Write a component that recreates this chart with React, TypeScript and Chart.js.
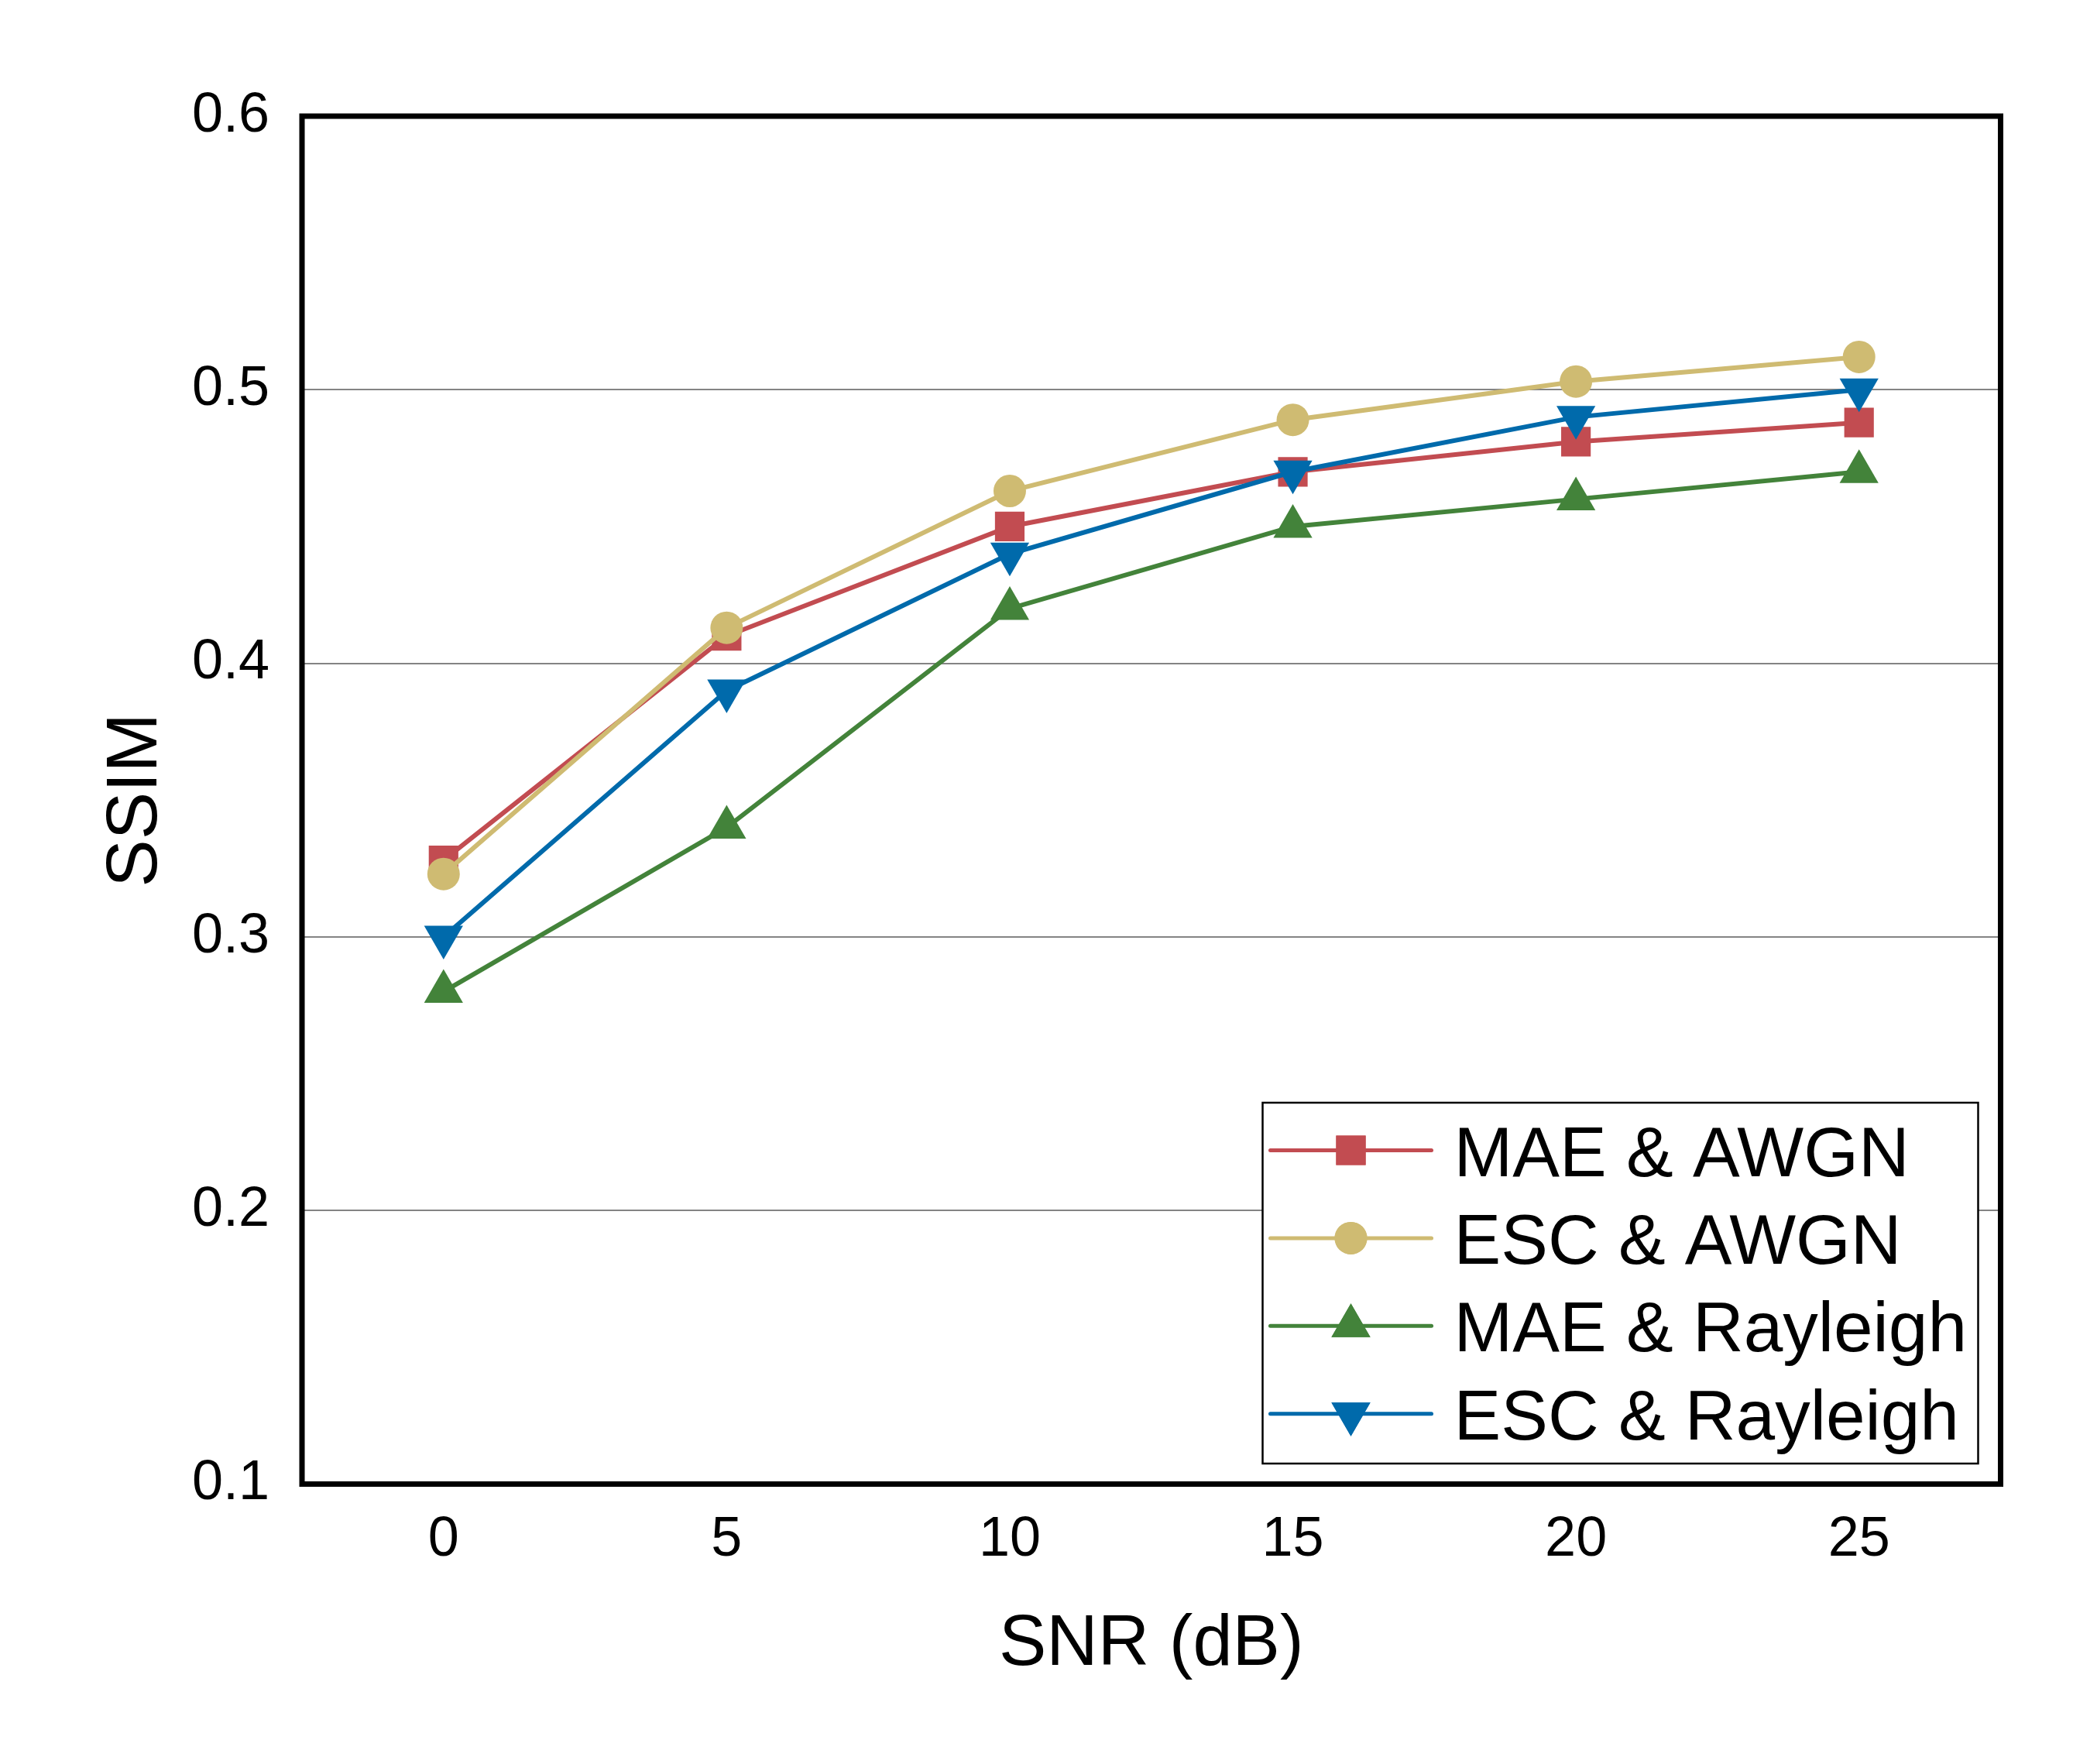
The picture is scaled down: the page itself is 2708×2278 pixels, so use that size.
import { useEffect, useRef } from 'react';
import { Chart, registerables } from 'chart.js';
import { drawPoint } from 'chart.js/helpers';

Chart.register(...registerables);

const snrLabels = ['0', '5', '10', '15', '20', '25'];
const yTicks = [0.1, 0.2, 0.3, 0.4, 0.5, 0.6];

const maeAwgn = [0.328, 0.41, 0.45, 0.47, 0.481, 0.488];
const escAwgn = [0.323, 0.413, 0.463, 0.489, 0.503, 0.512];
const maeRayleigh = [0.28, 0.34, 0.42, 0.45, 0.46, 0.47];
const escRayleigh = [0.3, 0.39, 0.44, 0.47, 0.49, 0.5];

const seriesNames = ['MAE & AWGN', 'ESC & AWGN', 'MAE & Rayleigh', 'ESC & Rayleigh'];

const FONT = '"Liberation Sans", Arial, sans-serif';
const W = 2708;
const H = 2278;

// black frame round the plot area
const framePlugin = {
  id: 'frame',
  afterDraw(chart: Chart) {
    const { ctx, chartArea: a } = chart;
    ctx.save();
    ctx.strokeStyle = '#000';
    ctx.lineWidth = 7;
    ctx.strokeRect(a.left, a.top, a.right - a.left, a.bottom - a.top);
    ctx.restore();
  },
};

// legend inside the plot, bottom right, line through marker
const insideLegend = {
  id: 'insideLegend',
  afterDraw(chart: Chart) {
    const { ctx, chartArea: a } = chart;
    const boxW = 924;
    const boxH = 466;
    const x0 = a.right - 29 - boxW;
    const y0 = a.bottom - 26.5 - boxH;
    ctx.save();
    ctx.fillStyle = '#fff';
    ctx.fillRect(x0, y0, boxW, boxH);
    ctx.strokeStyle = '#000';
    ctx.lineWidth = 2.5;
    ctx.strokeRect(x0, y0, boxW, boxH);

    chart.data.datasets.forEach((ds: any, i: number) => {
      const cy = y0 + 61.5 + i * 113.4;
      ctx.strokeStyle = ds.borderColor;
      ctx.lineWidth = 5;
      ctx.lineCap = 'round';
      ctx.beginPath();
      ctx.moveTo(x0 + 10, cy);
      ctx.lineTo(x0 + 218, cy);
      ctx.stroke();
      ctx.fillStyle = ds.borderColor;
      drawPoint(ctx, {
        pointStyle: ds.pointStyle,
        rotation: ds.pointRotation || 0,
        radius: ds.pointRadius,
        borderWidth: 0,
      }, x0 + 114, cy);
      ctx.fill();

      ctx.fillStyle = '#000';
      ctx.font = `91px ${FONT}`;
      ctx.textAlign = 'left';
      ctx.textBaseline = 'alphabetic';
      ctx.fillText(seriesNames[i], x0 + 247, cy + 33);
    });
    ctx.restore();
  },
};

export default function App() {
  const canvasRef = useRef<HTMLCanvasElement>(null);

  useEffect(() => {
    if (!canvasRef.current) return;
    const ctx = canvasRef.current.getContext('2d');
    if (!ctx) return;

    const line = (label: string, data: number[], color: string, style: string, radius: number, order: number, rotation = 0) => ({
      label,
      data,
      borderColor: color,
      backgroundColor: color,
      borderWidth: 6,
      pointStyle: style,
      pointRadius: radius,
      pointRotation: rotation,
      pointBorderWidth: 0,
      pointBackgroundColor: color,
      tension: 0,
      order,
    });

    const chart = new Chart(ctx, {
      type: 'line',
      data: {
        labels: snrLabels,
        datasets: [
          line(seriesNames[0], maeAwgn, '#C24C51', 'rect', 27, 4),
          line(seriesNames[1], escAwgn, '#CFBB72', 'circle', 21, 3),
          line(seriesNames[2], maeRayleigh, '#43833A', 'triangle', 29, 2),
          line(seriesNames[3], escRayleigh, '#006AAB', 'triangle', 29, 1, 180),
        ] as any,
      },
      options: {
        responsive: false,
        animation: false,
        devicePixelRatio: 1,
        layout: { padding: { top: 150, right: 124.5, left: 0, bottom: 0 } },
        plugins: {
          legend: { display: false },
          tooltip: { enabled: false },
        },
        scales: {
          x: {
            type: 'category',
            offset: true,
            grid: { display: false, drawTicks: false },
            border: { display: false },
            ticks: {
              color: '#000',
              font: { size: 72, family: FONT },
              padding: 29,
              maxRotation: 0,
            },
            title: {
              display: true,
              text: 'SNR (dB)',
              color: '#000',
              font: { size: 92, family: FONT },
              padding: { top: 0, bottom: 98 },
            },
            afterFit: (scale: any) => {
              scale.height = 361.5;
            },
          },
          y: {
            type: 'linear',
            min: yTicks[0],
            max: yTicks[yTicks.length - 1],
            afterBuildTicks: (scale: any) => {
              scale.ticks = yTicks.map((v) => ({ value: v }));
            },
            grid: { color: '#848484', lineWidth: 2, drawTicks: false },
            border: { display: false },
            ticks: {
              color: '#000',
              font: { size: 72, family: FONT },
              padding: 42,
              callback: (v: any) => Number(v).toFixed(1),
            },
            title: {
              display: true,
              text: 'SSIM',
              color: '#000',
              font: { size: 92, family: FONT },
              padding: { top: 121, bottom: 0 },
            },
            afterFit: (scale: any) => {
              scale.width = 390;
            },
          },
        },
      },
      plugins: [framePlugin, insideLegend],
    });

    return () => {
      chart.destroy();
    };
  }, []);

  return (
    <div style={{ position: 'absolute', left: 0, top: 0, width: W, height: H, background: '#fff' }}>
      <canvas ref={canvasRef} width={W} height={H} style={{ width: W, height: H }} />
    </div>
  );
}
